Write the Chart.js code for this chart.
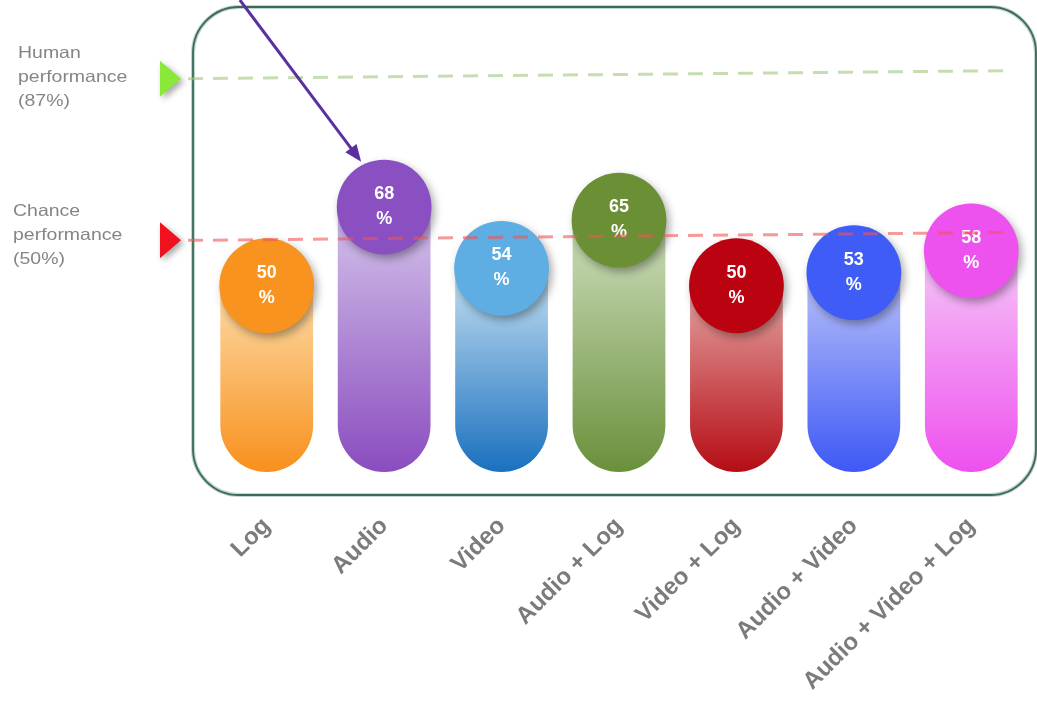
<!DOCTYPE html>
<html>
<head>
<meta charset="utf-8">
<script src="https://cdn.jsdelivr.net/npm/chart.js@4"></script>
<style>
  html, body { margin:0; padding:0; background:#fff; }
  #wrap { position:relative; width:1037px; height:704px; }
</style>
</head>
<body>
<div id="wrap"><canvas id="chart"></canvas></div>
<script>
// ---- data ----
const labels = ['Log','Audio','Video','Audio + Log','Video + Log','Audio + Video','Audio + Video + Log'];
const accuracy = [50, 68, 54, 65, 50, 53, 58];
const humanLevel = 87;
const chanceLevel = 50;

// ---- colours ----
const circleColors = ['#f7931e','#8a4fc1','#5eade3','#6a8f35','#bb0211','#3f5cf6','#ee52ee'];
const barTop =    ['#fcd296','#c7aee3','#acd0ea','#bcd0a6','#de9090','#a8b3f9','#f4b4f6'];
const barBottom = ['#f8901c','#8a4cbf','#1a70bf','#6a903a','#b50c14','#3e58f5','#ee50ee'];

function barGradient(ctx) {
  const chart = ctx.chart;
  const i = ctx.dataIndex;
  if (!chart.chartArea || !chart.scales.y) return barBottom[i];
  const y = chart.scales.y;
  const top = y.getPixelForValue(accuracy[i]);
  const bottom = y.getPixelForValue(y.min);
  const g = chart.ctx.createLinearGradient(0, top, 0, bottom);
  g.addColorStop(0, barTop[i]);
  g.addColorStop(0.3, barTop[i]);
  g.addColorStop(1, barBottom[i]);
  return g;
}

// ---- frame behind the bars ----
const framePlugin = {
  id:'frame',
  beforeDatasetsDraw(chart) {
    const c = chart.ctx;
    const x0 = 193, y0 = 7, x1 = 1036, y1 = 495, r = 46;
    c.save();
    c.beginPath();
    c.moveTo(x0 + r, y0);
    c.lineTo(x1 - r, y0);
    c.arcTo(x1, y0, x1, y0 + r, r);
    c.lineTo(x1, y1 - r);
    c.arcTo(x1, y1, x1 - r, y1, r);
    c.lineTo(x0 + r, y1);
    c.arcTo(x0, y1, x0, y1 - r, r);
    c.lineTo(x0, y0 + r);
    c.arcTo(x0, y0, x0 + r, y0, r);
    c.closePath();
    c.strokeStyle = 'rgba(120,160,145,0.45)';
    c.lineWidth = 4;
    c.stroke();
    c.strokeStyle = '#3a6a58';
    c.lineWidth = 1.8;
    c.stroke();
    c.restore();
  }
};

// ---- circles, reference lines, markers, arrow ----
const overlayPlugin = {
  id:'overlay',
  afterDatasetsDraw(chart) {
    const c = chart.ctx;
    const meta = chart.getDatasetMeta(0);
    const y = chart.scales.y;

    // circles on top of each bar
    meta.data.forEach((bar, i) => {
      const r = bar.width / 2 + 1;
      const cx = bar.x, cy = bar.y + r - 2;
      c.save();
      c.shadowColor = 'rgba(0,0,0,0.35)';
      c.shadowBlur = 9;
      c.shadowOffsetX = 3;
      c.shadowOffsetY = 4;
      c.beginPath();
      c.arc(cx, cy, r, 0, Math.PI * 2);
      c.fillStyle = circleColors[i];
      c.fill();
      c.restore();
      c.save();
      c.fillStyle = '#fff';
      c.font = 'bold 18px "Liberation Sans", Arial, sans-serif';
      c.textAlign = 'center';
      c.textBaseline = 'middle';
      c.fillText(String(accuracy[i]), cx, cy - 13);
      c.fillText('%', cx, cy + 12);
      c.restore();
    });

    // dashed reference lines (slightly tilted like the source)
    const drawRef = (val, color) => {
      const py = y.getPixelForValue(val);
      c.save();
      c.strokeStyle = color;
      c.lineWidth = 3;
      c.setLineDash([15, 10]);
      c.beginPath();
      c.moveTo(188, py);
      c.lineTo(1010, py - 8);
      c.stroke();
      c.restore();
    };
    drawRef(humanLevel, 'rgba(160,198,125,0.6)');
    drawRef(chanceLevel, 'rgba(240,85,85,0.6)');

    // triangle markers
    const tri = (val, color) => {
      const py = y.getPixelForValue(val);
      c.save();
      c.shadowColor = 'rgba(0,0,0,0.35)';
      c.shadowBlur = 6;
      c.shadowOffsetX = 3;
      c.shadowOffsetY = 3;
      c.beginPath();
      c.moveTo(160, py - 18);
      c.lineTo(181, py);
      c.lineTo(160, py + 18);
      c.closePath();
      c.fillStyle = color;
      c.fill();
      c.restore();
    };
    tri(humanLevel, '#8ae83a');
    tri(chanceLevel, '#f0101e');

    // arrow pointing at the Audio circle
    const a = meta.data[1];
    const tx = a.x - 23, ty = a.y;
    const dx = 0.6, dy = 0.8;
    const sx = tx - dx * (ty / dy), sy = 0;
    c.save();
    c.strokeStyle = '#5a2fa0';
    c.fillStyle = '#5a2fa0';
    c.lineWidth = 3;
    c.beginPath();
    c.moveTo(sx, sy);
    c.lineTo(tx - dx * 12, ty - dy * 12);
    c.stroke();
    c.beginPath();
    c.moveTo(tx, ty);
    c.lineTo(tx - dx * 17 - dy * 7, ty - dy * 17 + dx * 7);
    c.lineTo(tx - dx * 17 + dy * 7, ty - dy * 17 - dx * 7);
    c.closePath();
    c.fill();
    c.restore();

    // side labels (source text is a little wide)
    const side = (lines, x, y0) => {
      c.save();
      c.translate(x, 0);
      c.scale(1.18, 1);
      c.fillStyle = '#858585';
      c.font = '16.5px "Liberation Sans", Arial, sans-serif';
      c.textBaseline = 'middle';
      lines.forEach((t, k) => c.fillText(t, 0, y0 + k * 24));
      c.restore();
    };
    side(['Human','performance','(87%)'], 18, 53);
    side(['Chance','performance','(50%)'], 13, 211);
  }
};

new Chart(document.getElementById('chart'), {
  type:'bar',
  data:{
    labels:labels,
    datasets:[{
      data:accuracy,
      base:-3,
      backgroundColor:barGradient,
      borderRadius:60,
      borderSkipped:false,
      categoryPercentage:1,
      barPercentage:0.79
    }]
  },
  options:{
    responsive:true,
    maintainAspectRatio:false,
    animation:false,
    layout:{padding:{left:208, right:7, top:0, bottom:0}},
    plugins:{legend:{display:false}, tooltip:{enabled:false}},
    scales:{
      y:{display:false, min:-3, max:105},
      x:{
        grid:{display:false, drawTicks:false},
        border:{display:false},
        afterFit(s){ s.height = 232; },
        ticks:{
          autoSkip:false,
          minRotation:45,
          maxRotation:45,
          padding:40,
          color:'#7b7b7b',
          font:{family:'"Liberation Sans", Arial, sans-serif', size:24, weight:'bold'}
        }
      }
    }
  },
  plugins:[framePlugin, overlayPlugin]
});
</script>
</body>
</html>
